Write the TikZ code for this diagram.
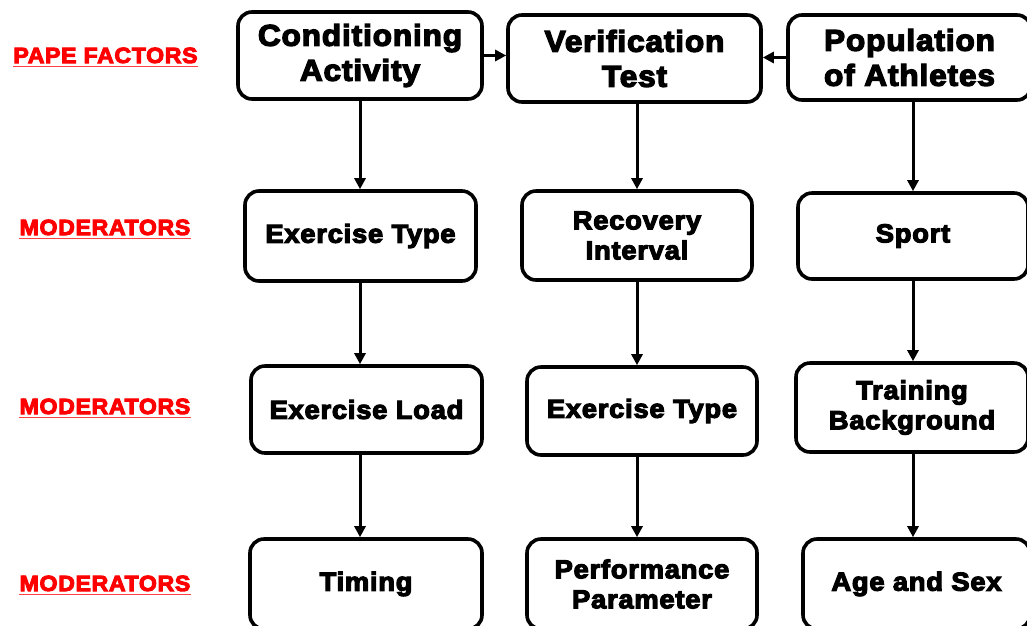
\documentclass[tikz,border=0pt]{standalone}
\usepackage{fontspec}
\newfontfamily\heavy{Liberation Sans Bold}[FakeStretch=1.05,FakeBold=4.5,LetterSpace=3]
\usetikzlibrary{arrows.meta}
\tikzset{
  box/.style={draw=black, line width=3.6pt, rounded corners=14pt, fill=white, align=center, inner sep=0pt, font=\heavy\fontsize{26}{30}\selectfont},
  big/.style={font=\heavy\fontsize{30}{35}\selectfont},
  arr/.style={line width=3pt, -{Triangle[length=11pt,width=11pt]}},
  lbl/.style={text=red, inner sep=0pt, anchor=base, font=\heavy\fontsize{22}{26}\selectfont},
  uline/.style={draw=red!75, line width=1.8pt}
}
\begin{document}
\begin{tikzpicture}[x=1pt,y=-1pt]
\useasboundingbox[fill=white] (0,0) rectangle (1027,625);
% row 1
\node[box,big,minimum width=244pt,minimum height=87pt] (ca) at (360,55.5) {Conditioning\\Activity};
\node[box,big,minimum width=253pt,minimum height=87pt] (vt) at (634.5,58.5) {Verification\\Test};
\node[box,big,minimum width=243pt,minimum height=85pt] (pa) at (909.5,57.5) {Population\\of Athletes};
% row 2
\node[box,minimum width=231pt,minimum height=90pt] (et1) at (360.5,236) {Exercise Type};
\node[box,minimum width=230pt,minimum height=89pt] (ri) at (637,235.5) {Recovery\\Interval};
\node[box,minimum width=230pt,minimum height=86pt] (sp) at (913,236) {Sport};
% row 3
\node[box,minimum width=231pt,minimum height=87pt] (el) at (366.5,409.5) {Exercise Load};
\node[box,minimum width=230pt,minimum height=88pt] (et2) at (642,411) {Exercise Type};
\node[box,minimum width=232pt,minimum height=89pt] (tb) at (912,407.5) {Training\\Background};
% row 4
\node[box,minimum width=232pt,minimum height=90pt] (tm) at (366,584) {Timing};
\node[box,minimum width=230pt,minimum height=90pt] (pp) at (642,584) {Performance\\Parameter};
\node[box,minimum width=227pt,minimum height=90pt] (as) at (916.5,584) {Age and Sex};
% labels
\node[lbl] (l1) at (105.5,63) {PAPE FACTORS};
\node[lbl] (l2) at (105,235) {MODERATORS};
\node[lbl] (l3) at (105,414) {MODERATORS};
\node[lbl] (l4) at (105,591) {MODERATORS};
\foreach \n in {l1,l2,l3,l4}{
  \draw[uline] ([yshift=-3pt]\n.south west) -- ([yshift=-3pt]\n.south east);
}
% horizontal arrows
\draw[arr] (ca.east) -- (ca.east -| vt.west);
\draw[arr] (pa.west) -- (pa.west -| vt.east);
% column 1
\draw[arr] (ca.south) -- (ca.south |- et1.north);
\draw[arr] (ca.south |- et1.south) -- (ca.south |- el.north);
\draw[arr] (ca.south |- el.south) -- (ca.south |- tm.north);
% column 2
\draw[arr] (ri.north |- vt.south) -- (ri.north);
\draw[arr] (ri.south) -- (ri.south |- et2.north);
\draw[arr] (ri.south |- et2.south) -- (ri.south |- pp.north);
% column 3
\draw[arr] (sp.north |- pa.south) -- (sp.north);
\draw[arr] (sp.south) -- (sp.south |- tb.north);
\draw[arr] (sp.south |- tb.south) -- (sp.south |- as.north);
\end{tikzpicture}
\end{document}
